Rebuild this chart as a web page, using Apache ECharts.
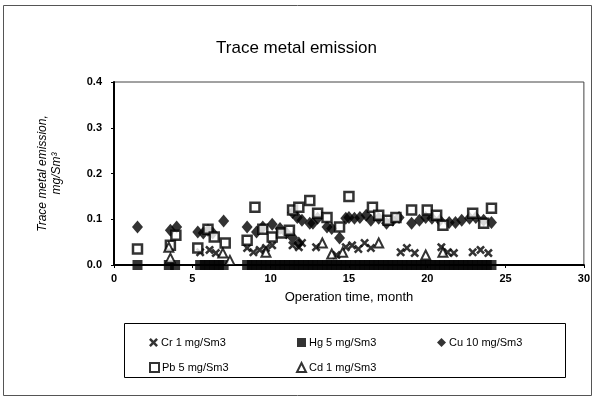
<!DOCTYPE html>
<html>
<head>
<meta charset="utf-8">
<script src="https://cdn.jsdelivr.net/npm/echarts@6/dist/echarts.min.js"></script>
<style>
  html, body { margin: 0; padding: 0; background: #fff; }
  #chart { width: 593px; height: 397px; }
</style>
</head>
<body>
<div id="chart"></div>
<script>
// values: [month, mg/Sm3]
const crData = [
  [5.5, 0.028], [6.1, 0.033], [6.5, 0.026], [8.5, 0.037], [8.9, 0.028], [9.3, 0.033],
  [9.7, 0.037], [10.1, 0.043], [11.4, 0.043], [11.8, 0.039], [12.0, 0.048], [12.9, 0.039],
  [14.2, 0.022], [14.8, 0.039], [15.2, 0.043], [15.6, 0.035], [16.0, 0.048], [16.4, 0.037],
  [18.3, 0.028], [18.7, 0.037], [19.2, 0.026], [20.9, 0.039], [21.3, 0.028], [21.7, 0.026],
  [22.9, 0.028], [23.4, 0.033], [23.9, 0.026]
];
const hgData = [
  [1.5, 0], [3.5, 0], [3.9, 0], [5.5, 0], [5.8, 0], [6.1, 0], [6.4, 0], [6.7, 0], [7.0, 0],
  [8.5, 0], [8.8, 0], [9.1, 0], [9.4, 0], [9.7, 0], [10.0, 0], [10.3, 0], [10.6, 0], [10.9, 0],
  [11.2, 0], [11.5, 0], [11.8, 0], [12.1, 0], [12.4, 0], [12.7, 0], [13.0, 0], [13.3, 0],
  [13.6, 0], [13.9, 0], [14.2, 0], [14.5, 0], [14.8, 0], [15.1, 0], [15.4, 0], [15.7, 0],
  [16.0, 0], [16.3, 0], [16.6, 0], [16.9, 0], [17.2, 0], [17.5, 0], [17.8, 0], [18.1, 0],
  [18.4, 0], [18.7, 0], [19.0, 0], [19.3, 0], [19.6, 0], [19.9, 0], [20.2, 0], [20.5, 0],
  [20.8, 0], [21.1, 0], [21.4, 0], [21.7, 0], [22.0, 0], [22.3, 0], [22.6, 0], [22.9, 0],
  [23.2, 0], [23.5, 0], [23.8, 0], [24.1, 0]
];
const cuData = [
  [1.5, 0.083], [3.6, 0.076], [4.0, 0.083], [5.35, 0.072], [5.7, 0.07], [6.0, 0.076],
  [6.3, 0.07], [7.0, 0.096], [8.5, 0.083], [9.1, 0.072], [9.5, 0.083], [10.1, 0.089],
  [10.6, 0.08], [11.0, 0.07], [11.4, 0.06], [11.8, 0.048], [11.4, 0.115], [11.7, 0.104],
  [12.0, 0.098], [12.5, 0.091], [12.7, 0.091], [13.0, 0.102], [13.6, 0.083], [13.9, 0.08],
  [14.4, 0.059], [14.8, 0.102], [15.0, 0.104], [15.35, 0.102], [15.7, 0.104], [16.1, 0.109],
  [16.4, 0.098], [16.9, 0.102], [17.4, 0.091], [17.8, 0.098], [18.2, 0.104], [19.0, 0.091],
  [19.5, 0.098], [19.9, 0.104], [20.3, 0.102], [20.8, 0.098], [21.4, 0.093], [21.8, 0.093],
  [22.2, 0.098], [22.7, 0.102], [23.1, 0.104], [23.6, 0.098], [24.1, 0.093]
];
const pbData = [
  [1.5, 0.035], [3.6, 0.043], [3.95, 0.065], [5.35, 0.037], [6.0, 0.078], [6.4, 0.061],
  [7.1, 0.048], [8.5, 0.054], [9.0, 0.126], [9.5, 0.078], [10.1, 0.061], [10.7, 0.07],
  [11.2, 0.076], [11.4, 0.12], [11.8, 0.126], [12.5, 0.141], [13.0, 0.113], [13.6, 0.104],
  [14.4, 0.083], [15.0, 0.15], [16.5, 0.126], [16.9, 0.109], [17.5, 0.098], [18.0, 0.104],
  [19.0, 0.12], [20.0, 0.12], [20.6, 0.109], [21.0, 0.087], [22.9, 0.113], [23.6, 0.091],
  [24.1, 0.124]
];
const cdData = [
  [3.5, 0.039], [3.6, 0.015], [6.95, 0.026], [7.4, 0.01], [9.7, 0.028], [13.3, 0.048],
  [13.9, 0.024], [14.6, 0.028], [16.9, 0.048], [19.9, 0.022], [21.0, 0.028]
];
const yTicks = ['0.0', '0.1', '0.2', '0.3', '0.4'];
const seriesNames = ['Cr 1 mg/Sm3', 'Hg 5 mg/Sm3', 'Cu 10 mg/Sm3', 'Pb 5 mg/Sm3', 'Cd 1 mg/Sm3'];

// bold X mark for Cr
const crossPath = 'path://M0,2 L2,0 L5,3 L8,0 L10,2 L7,5 L10,8 L8,10 L5,7 L2,10 L0,8 L3,5 Z';
const txt = '#000';
const fontFam = '"Liberation Sans", Arial, sans-serif';

const chart = echarts.init(document.getElementById('chart'));

const legendAt = (name, left, top) => ({
  data: [name],
  left: left,
  top: top,
  itemWidth: 9,
  itemHeight: 9,
  itemGap: 4,
  textStyle: { fontSize: 11, color: txt, fontFamily: fontFam, padding: [0, 0, 0, -2] }
});

const option = {
  backgroundColor: '#fff',
  animation: false,
  title: {
    text: 'Trace metal emission',
    left: 'center',
    top: 35,
    textStyle: { fontSize: 17, fontWeight: 'normal', color: txt, fontFamily: fontFam }
  },
  grid: {
    left: 114, right: 8, top: 82, bottom: 132,
    show: true, borderColor: '#444', borderWidth: 1
  },
  legend: [
    legendAt(seriesNames[0], 144, 332),
    legendAt(seriesNames[1], 292, 332),
    legendAt(seriesNames[2], 432, 332),
    legendAt(seriesNames[3], 144, 357),
    legendAt(seriesNames[4], 291, 357)
  ],
  xAxis: {
    type: 'value',
    min: 0, max: 30, interval: 5,
    name: 'Operation time, month',
    nameLocation: 'middle',
    nameGap: 26,
    nameTextStyle: { fontSize: 13, color: txt, fontFamily: fontFam },
    axisLine: { show: true, lineStyle: { color: '#000', width: 2 } },
    axisTick: { show: true, length: 3, inside: false, lineStyle: { color: '#000' } },
    axisLabel: { fontSize: 11, color: txt, fontWeight: 'bold', fontFamily: fontFam, margin: 8 },
    splitLine: { show: false }
  },
  yAxis: {
    type: 'value',
    min: 0, max: 0.4, interval: 0.1,
    name: 'Trace metal emission,\nmg/Sm\u00b3',
    nameLocation: 'middle',
    nameRotate: 90,
    nameGap: 50,
    nameTextStyle: { fontSize: 12, color: txt, fontFamily: fontFam, fontStyle: 'italic', lineHeight: 14, align: 'center' },
    axisLine: { show: true, lineStyle: { color: '#000', width: 2 } },
    axisTick: { show: true, length: 3, lineStyle: { color: '#000' } },
    axisLabel: {
      fontSize: 11, color: txt, fontWeight: 'bold', fontFamily: fontFam, margin: 12,
      formatter: (v) => yTicks[Math.round(v * 10)]
    },
    splitLine: { show: false }
  },
  series: [
    {
      name: seriesNames[0], type: 'scatter', data: crData,
      symbol: crossPath, symbolSize: 9,
      itemStyle: { color: '#000' }
    },
    {
      name: seriesNames[1], type: 'scatter', data: hgData,
      symbol: 'rect', symbolSize: 10,
      itemStyle: { color: '#000' }
    },
    {
      name: seriesNames[2], type: 'scatter', data: cuData,
      symbol: 'diamond', symbolSize: [11, 13],
      itemStyle: { color: '#000' }
    },
    {
      name: seriesNames[3], type: 'scatter', data: pbData,
      symbol: 'rect', symbolSize: 9,
      itemStyle: { color: '#fff', borderColor: '#000', borderWidth: 2.5 }
    },
    {
      name: seriesNames[4], type: 'scatter', data: cdData,
      symbol: 'triangle', symbolSize: 9,
      itemStyle: { color: '#fff', borderColor: '#000', borderWidth: 2 }
    }
  ],
  graphic: [
    {
      type: 'rect', silent: true,
      shape: { x: 3.5, y: 5.5, width: 588, height: 390 },
      style: { fill: null, stroke: '#555', lineWidth: 1 }
    },
    {
      type: 'rect', silent: true,
      shape: { x: 124.5, y: 323.5, width: 441, height: 54 },
      style: { fill: null, stroke: '#000', lineWidth: 1 }
    }
  ]
};

chart.setOption(option);
</script>
</body>
</html>
